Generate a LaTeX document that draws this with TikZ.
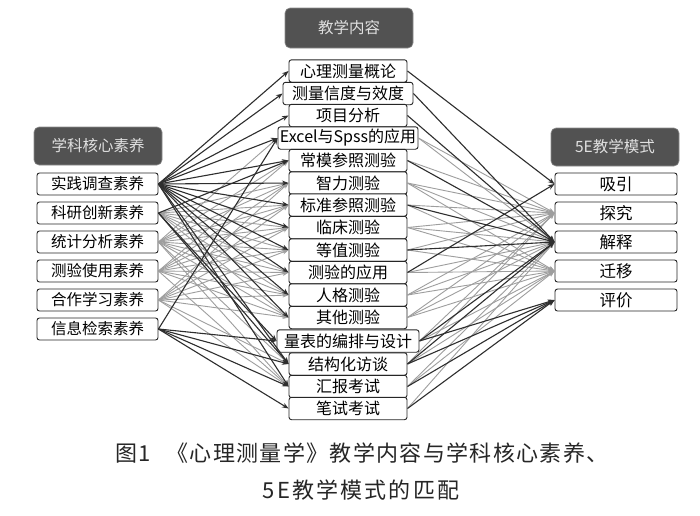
\documentclass[tikz,border=0pt]{standalone}
\usepackage{fontspec}
\setmainfont{Noto Sans CJK SC}
\usetikzlibrary{arrows.meta}
\begin{document}
\begin{tikzpicture}[x=1pt,y=-1pt,
  box/.style={draw=black!85,line width=0.9pt,fill=white,rounded corners=2.5pt,minimum height=22pt,inner sep=0pt,font=\fontsize{15.5}{15.5}\selectfont},
  lbox/.style={box,minimum width=121pt},
  mbox/.style={box,minimum width=118pt,minimum height=22.4pt,font=\fontsize{16}{16}\selectfont},
  rbox/.style={box,minimum width=122pt,font=\fontsize{16.5}{16.5}\selectfont},
  head/.style={fill=black!68,draw=black!45,line width=0.6pt,rounded corners=5pt,text=black!12,minimum width=128pt,minimum height=38pt,inner sep=0pt,font=\fontsize{15.5}{15.5}\selectfont},
  lite/.style={draw=black!38,line width=0.9pt,-{Stealth[length=6pt,width=4.5pt]}},
  dark/.style={draw=black!82,line width=1.1pt,-{Stealth[length=6.5pt,width=5pt]}},
  captext/.style={text=black!85,inner sep=0pt}]
\useasboundingbox (0,0) rectangle (700,515);
\fill[white] (0,0) rectangle (700,515);
% headers
\node[head,minimum height=40pt] (hm) at (349,28) {教学内容};
\node[head] (hl) at (98,146) {学科核心素养};
\node[head] (hr) at (615,147) {5E教学模式};
% left
\node[lbox] (l1) at (97.5,184) {实践调查素养};
\node[lbox] (l2) at (97.5,213) {科研创新素养};
\node[lbox] (l3) at (97.5,242) {统计分析素养};
\node[lbox] (l4) at (97.5,271) {测验使用素养};
\node[lbox] (l5) at (97.5,300) {合作学习素养};
\node[lbox] (l6) at (97.5,329) {信息检索素养};
% right
\node[rbox] (r1) at (616,184) {吸引};
\node[rbox] (r2) at (616,213) {探究};
\node[rbox] (r3) at (616,242) {解释};
\node[rbox] (r4) at (616,271) {迁移};
\node[rbox] (r5) at (616,300) {评价};
% middle boxes
\node[mbox] (m1) at (348,71) {心理测量概论};
\node[mbox,minimum width=130pt] (m2) at (348,93.5) {测量信度与效度};
\node[mbox] (m3) at (348,115.5) {项目分析};
\node[mbox,minimum width=140pt] (m4) at (348,138) {Excel与Spss的应用};
\node[mbox] (m5) at (348,160.5) {常模参照测验};
\node[mbox] (m6) at (348,183) {智力测验};
\node[mbox] (m7) at (348,205) {标准参照测验};
\node[mbox] (m8) at (348,227.5) {临床测验};
\node[mbox] (m9) at (348,250) {等值测验};
\node[mbox] (m10) at (348,272.5) {测验的应用};
\node[mbox] (m11) at (348,295) {人格测验};
\node[mbox] (m12) at (348,317.5) {其他测验};
\node[mbox,minimum width=142pt] (m13) at (348,341) {量表的编排与设计};
\node[mbox] (m14) at (348,364) {结构化访谈};
\node[mbox] (m15) at (348,386.5) {汇报考试};
\node[mbox] (m16) at (348,408.5) {笔试考试};
% light connectors
\foreach \a/\b in {2/6,2/7,2/8,2/9,2/10,2/11,2/12,
  3/4,3/5,3/6,3/7,3/8,3/9,3/10,3/11,3/12,3/14,3/15,
  4/5,4/6,4/7,4/8,4/9,4/10,4/11,4/12,4/15,
  5/6,5/7,5/8,5/9,5/10,5/11,5/12,5/14,5/15}
  \draw[lite] (l\a.east) -- (m\b.west);
\foreach \a/\b in {4/2,4/3,5/2,6/2,6/3,6/4,7/2,7/4,8/2,8/3,8/4,9/2,9/4,
  10/3,10/4,11/2,11/3,11/4,12/2,12/3,12/4,13/2,13/4,14/2,14/4,15/3,15/4,16/3}
  \draw[lite] (m\a.east) -- (r\b.west);
% dark connectors
\foreach \a/\b in {1/1,1/2,1/3,1/4,1/5,1/6,1/7,1/8,1/9,1/10,1/11,1/12,1/14,1/15,
  2/5,2/13,2/14,6/4,6/13,6/14,6/15,6/16}
  \draw[dark] (l\a.east) -- (m\b.west);
\foreach \a/\b in {1/1,2/3,3/3,5/3,7/3,9/3,10/1,13/3,13/5,14/3,14/5,15/5,16/5}
  \draw[dark] (m\a.east) -- (r\b.west);
% caption
\node[captext,font={\fontsize{22}{22}\selectfont\addfontfeature{LetterSpace=6}}] (cap1) at (362,453) {图1\hspace{0.7em}《心理测量学》教学内容与学科核心素养、};
\node[captext,font={\fontsize{22}{22}\selectfont\addfontfeature{LetterSpace=10}}] (cap2) at (361,490) {5E教学模式的匹配};
\end{tikzpicture}
\end{document}
